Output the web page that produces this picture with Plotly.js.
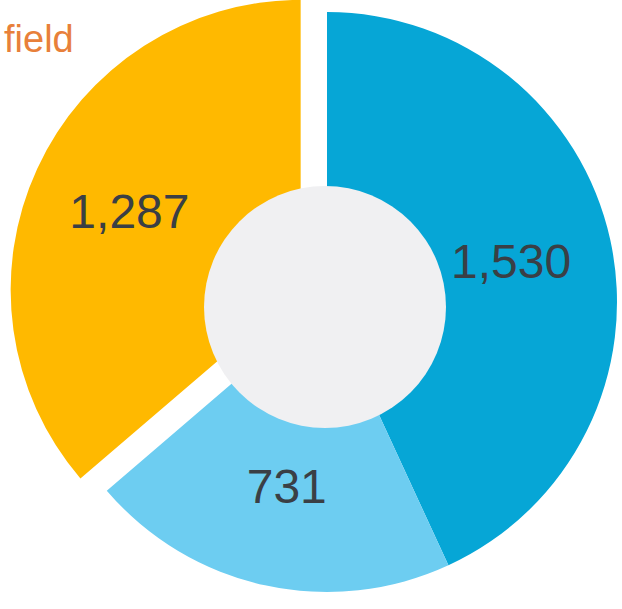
<!DOCTYPE html>
<html>
<head>
<meta charset="utf-8">
<script src="https://cdn.plot.ly/plotly-3.0.1.min.js"></script>
<style>
  html, body { margin: 0; padding: 0; width: 622px; height: 609px; overflow: hidden; background: #ffffff; }
  #chart { position: absolute; left: 0px; top: -17px; width: 654px; height: 638px; }
</style>
</head>
<body>
<div id="chart"></div>
<script>
const categories = ["Segment 1", "Segment 2", "Segment 3"];
const values = [1530, 731, 1287];
const colors = ["#06A6D6", "#6DCDF1", "#FFB900"];
const pulls = [0, 0, 0.1];
const headingText = "field";

const W = 654, H = 638;

const trace = {
  type: "pie",
  labels: categories,
  values: values,
  sort: false,
  direction: "clockwise",
  rotation: 0,
  hole: 0.3,
  pull: pulls,
  marker: { colors: colors, line: { width: 0 } },
  texttemplate: "%{value:,}",
  textposition: "inside",
  insidetextorientation: "horizontal",
  insidetextfont: { family: "Liberation Sans, Arial, sans-serif", size: 48, color: "#3a3f45" },
  showlegend: false,
  hoverinfo: "label+value"
};

// centre disc (light grey) drawn above the ring
const cxp = 325 / W, cyp = 1 - (307 + 17) / H;
const rx = 121 / W, ry = 121 / H;

const layout = {
  width: W,
  height: H,
  margin: { l: 0, r: 0, t: 0, b: 0 },
  paper_bgcolor: "#ffffff",
  showlegend: false,
  shapes: [{
    type: "circle", xref: "paper", yref: "paper", layer: "above",
    x0: cxp - rx, x1: cxp + rx, y0: cyp - ry, y1: cyp + ry,
    fillcolor: "#F0F0F2", line: { width: 0 }
  }],
  annotations: [{
    text: headingText, xref: "paper", yref: "paper",
    x: 2 / W, y: 1 - (39 + 17) / H, xanchor: "left", yanchor: "middle",
    showarrow: false,
    font: { family: "Liberation Sans, Arial, sans-serif", size: 38, color: "#E8803A" }
  }]
};

Plotly.newPlot("chart", [trace], layout, { displayModeBar: false, staticPlot: true });
</script>
</body>
</html>
